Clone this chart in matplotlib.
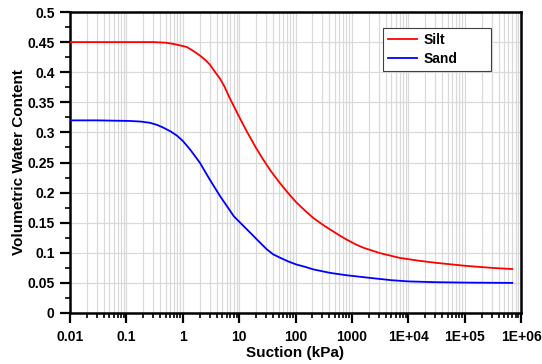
import matplotlib
matplotlib.use("Agg")
import matplotlib.pyplot as plt
from matplotlib.ticker import LogLocator, FixedLocator, FuncFormatter, MultipleLocator
import numpy as np

plt.rcParams['font.family'] = ['Liberation Sans', 'DejaVu Sans']
plt.rcParams['font.weight'] = 'bold'

# Suction (kPa) and volumetric water content
silt_suction = [0.01, 0.03, 0.1, 0.3, 0.5, 0.68, 0.85, 1.17, 1.5, 2.0, 2.5, 3.0, 3.7, 4.6, 5.5, 6.9, 10, 13.6, 20, 26.7, 37, 52.8, 75, 104, 150, 206, 300, 407, 600, 805, 1200, 1590, 3140, 7100, 1.5e4, 3e4, 1e5, 3e5, 7e5]
silt_theta = [0.450, 0.450, 0.450, 0.450, 0.449, 0.447, 0.445, 0.442, 0.436, 0.428, 0.4205, 0.413, 0.401, 0.389, 0.376, 0.356, 0.326, 0.302, 0.274, 0.255, 0.235, 0.216, 0.1985, 0.1835, 0.1695, 0.158, 0.147, 0.139, 0.129, 0.122, 0.1135, 0.1085, 0.0995, 0.0915, 0.087, 0.0835, 0.0785, 0.075, 0.073]

sand_suction = [0.01, 0.03, 0.116, 0.18, 0.26, 0.35, 0.45, 0.6, 0.78, 1.0, 1.34, 2.0, 3.0, 4.6, 6.9, 8.0, 9.7, 15.5, 23.4, 30.8, 40, 52.8, 75, 104, 150, 206, 407, 805, 2100, 5000, 1e4, 3e4, 1e5, 3e5, 7e5]
sand_theta = [0.320, 0.320, 0.319, 0.318, 0.316, 0.3125, 0.308, 0.302, 0.295, 0.286, 0.272, 0.250, 0.222, 0.194, 0.170, 0.161, 0.153, 0.134, 0.117, 0.106, 0.0975, 0.092, 0.0855, 0.0805, 0.0765, 0.0725, 0.0667, 0.0627, 0.0583, 0.0545, 0.0525, 0.0512, 0.0505, 0.0502, 0.050]

xtick_vals = [0.01, 0.1, 1, 10, 100, 1000, 1e4, 1e5, 1e6]
xtick_labels = ['0.01', '0.1', '1', '10', '100', '1000', '1E+04', '1E+05', '1E+06']

fig = plt.figure(figsize=(5.42, 3.64), dpi=100)
ax = fig.add_axes([70/542, 1-313/364, (521-70)/542, (313-12)/364])

ax.plot(silt_suction, silt_theta, color='#ff0000', lw=1.3, label='Silt', zorder=3)
ax.plot(sand_suction, sand_theta, color='#0000ff', lw=1.3, label='Sand', zorder=3)

ax.set_xscale('log')
ax.set_xlim(0.01, 1e6)
ax.set_ylim(0, 0.5)

ax.xaxis.set_major_locator(FixedLocator(xtick_vals))
ax.xaxis.set_major_formatter(FuncFormatter(lambda v, p: xtick_labels[xtick_vals.index(v)] if v in xtick_vals else ''))
ax.xaxis.set_minor_locator(LogLocator(base=10, subs=np.arange(2, 10), numticks=100))
ax.xaxis.set_minor_formatter(FuncFormatter(lambda v, p: ''))

ax.yaxis.set_major_locator(MultipleLocator(0.05))
ax.yaxis.set_minor_locator(MultipleLocator(0.025))
ax.yaxis.set_major_formatter(FuncFormatter(lambda v, p: ('%g' % round(v, 3))))

ax.grid(True, which='major', axis='both', color='#d9d9d9', lw=0.9, zorder=0)
ax.grid(True, which='minor', axis='x', color='#d9d9d9', lw=0.9, zorder=0)
ax.set_axisbelow(True)

for s in ax.spines.values():
    s.set_linewidth(1.8)
    s.set_color('black')

ax.tick_params(axis='both', which='major', direction='out', length=7, width=1.6,
               labelsize=10, pad=4, top=False, right=False)
ax.tick_params(axis='both', which='minor', direction='out', length=3.5, width=1.2,
               top=False, right=False)
ax.tick_params(axis='x', which='major', pad=5)
for lab in ax.get_xticklabels() + ax.get_yticklabels():
    lab.set_fontweight('bold')

ax.set_xlabel('Suction (kPa)', fontsize=11, fontweight='bold', labelpad=2)
ax.set_ylabel('Volumetric Water Content', fontsize=11, fontweight='bold', labelpad=1)

leg = ax.legend(loc='upper left', bbox_to_anchor=(383/542, 1-28/364, 108/542, 0.0),
                bbox_transform=fig.transFigure, mode='expand', borderaxespad=0,
                fancybox=False, framealpha=1, edgecolor='#404040',
                prop={'weight': 'bold', 'size': 10}, handlelength=2.1,
                handletextpad=0.45, labelspacing=0.35, borderpad=0.35)
leg.get_frame().set_linewidth(0.8)

fig.savefig('out.png', dpi=100)
